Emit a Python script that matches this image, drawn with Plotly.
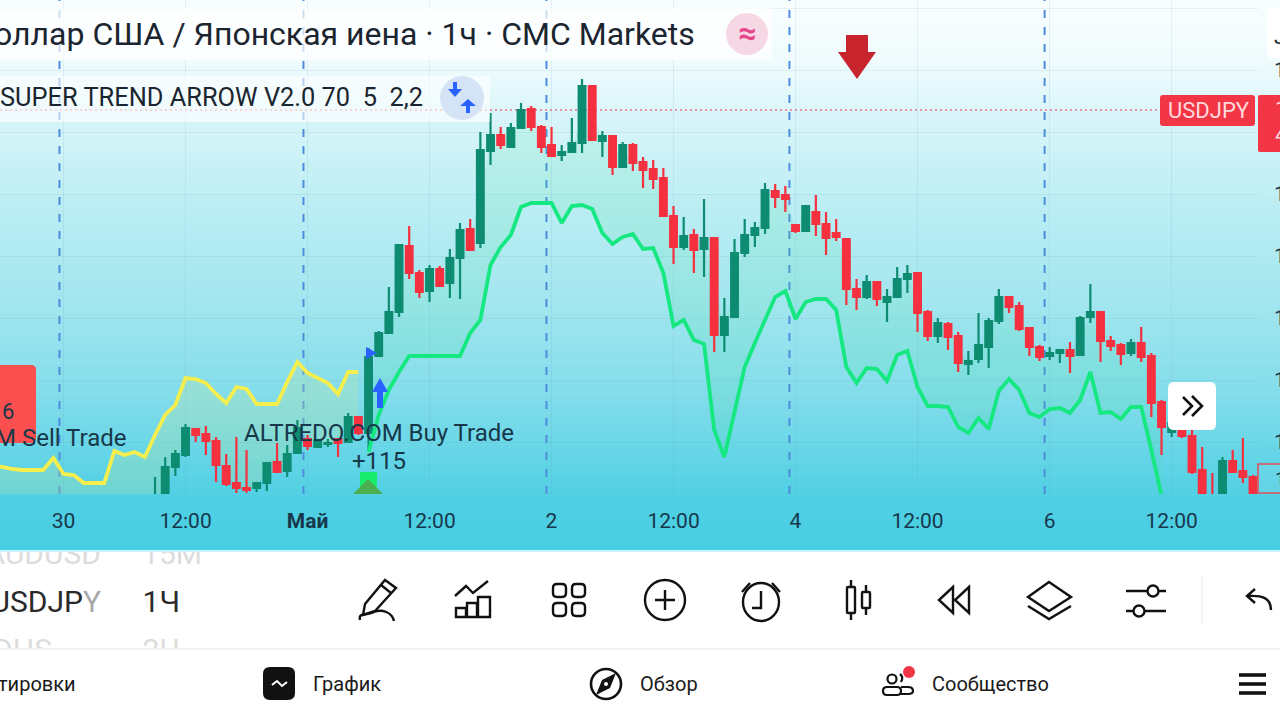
import plotly.graph_objects as go

# All price values are heights above the bottom of the chart pane: the price scale is cropped in the picture.
first_bar = 0
high = [17,37,44,70,65,68,57,40,57,44,12,32,51,49,74,59,54,55,56,81,78,146,163,207,249,268,224,229,228,245,271,275,362,381,367,371,391,388,369,367,349,376,415,408,363,358,352,351,337,334,326,288,277,265,295,256,196,255,275,272,311,310,308,269,288,299,282,275,255,215,219,212,205,227,229,221,184,176,172,162,143,181,176,205,197,192,166,149,147,144,152,178,210,182,158,151,155,167,141,94,74,66,64,47,21,37,44,56,19]
body_top = [-6,27,40,66,65,60,53,28,11,6,11,31,32,40,66,55,54,51,55,77,77,137,161,182,249,248,221,225,225,236,264,265,344,359,359,366,384,385,367,349,342,351,408,408,358,358,349,349,332,325,316,278,258,259,256,256,177,241,259,266,304,303,299,269,288,282,270,261,255,205,212,212,197,215,220,221,182,171,170,158,133,149,173,197,197,188,166,147,141,144,144,176,182,182,153,149,151,151,138,92,71,64,58,24,-6,33,33,23,17]
body_bot = [-11,-16,27,39,59,53,29,10,6,4,6,11,22,23,41,48,47,50,51,52,61,61,138,161,182,221,202,203,208,211,236,244,251,343,349,347,366,367,347,338,339,342,351,354,353,327,327,331,324,315,278,247,247,244,245,159,159,177,241,259,266,297,295,263,263,270,256,257,205,197,197,195,192,197,215,181,158,158,157,131,130,135,147,173,187,165,147,137,138,141,138,139,177,153,148,140,141,137,91,67,62,58,22,-16,-16,-16,22,17,-6]
low = [-16,-21,18,37,52,39,12,8,1,1,2,3,22,17,40,44,47,47,37,52,59,44,138,161,177,215,196,192,207,196,195,243,246,329,345,346,365,363,341,338,333,342,341,354,337,319,327,323,306,305,278,230,244,221,217,142,142,177,237,247,260,286,282,261,263,258,239,253,189,184,195,188,172,197,201,162,153,151,144,122,119,131,126,170,181,163,138,133,134,131,121,139,171,132,143,129,138,132,77,39,57,56,20,-21,-21,-21,21,11,-11]
is_up = [1,1,1,1,0,0,0,0,0,0,1,1,0,1,1,0,1,1,0,1,0,1,1,1,1,0,0,1,0,1,1,0,1,1,0,1,1,0,0,0,1,1,1,0,1,0,1,0,0,0,0,0,1,0,1,0,1,1,1,1,1,0,0,0,1,0,0,0,0,0,1,0,1,1,1,0,0,1,0,0,1,1,1,1,0,0,0,0,1,1,0,1,1,0,0,0,1,0,0,0,1,0,0,0,0,1,0,0,0]
sell_trend = [28,27,25,24,24,24,36,20,19,11,11,11,43,39,42,37,59,79,89,116,115,111,100,91,107,105,90,90,90,112,132,121,116,111,100,122,122]
sell_start = -16
buy_trend = [42,79,104,122,138,138,138,138,138,138,161,174,229,247,259,287,291,291,291,271,288,289,285,261,250,257,260,245,246,221,168,174,154,150,64,37,81,127,151,174,197,203,175,192,195,195,184,127,111,126,125,113,139,143,107,88,88,87,67,61,76,65,103,115,104,81,77,85,86,81,94,122,81,82,75,87,87,44,-2]
buy_start = 21
tick_bars = [-9,3,15,27,39,51,63,75,88,100]
tick_labels = ["30","12:00","<b>Май</b>","12:00","2","12:00","4","12:00","6","12:00"]
session_breaks = [-9.4,14.6,38.5,62.4,87.5]
price_ticks = [486,424,362,300,238,176,114,52]
last_price = 384

n = len(high)
bars = list(range(first_bar, first_bar + n))
opens = [b if u else t for t, b, u in zip(body_top, body_bot, is_up)]
closes = [t if u else b for t, b, u in zip(body_top, body_bot, is_up)]
mid = [(t + b) / 2 for t, b in zip(body_top, body_bot)]

W, H = 1280, 720
PANE_B = 494
TXT = "#17384a"
FONT = "Roboto"

X_RANGE = [-15.25, 108.49]
Y_RANGE = [0, PANE_B]
DOM_X = [0, 1258 / W]
DOM_Y = [1 - PANE_B / H, 1]

fig = go.Figure()

# trend fills (lowest, below the candles)
sx = list(range(sell_start, sell_start + len(sell_trend)))
sbase = [mid[i] if i >= 0 else 0 for i in sx]
fig.add_trace(go.Scatter(x=sx, y=sbase, mode="lines", line=dict(width=0), hoverinfo="skip", showlegend=False))
fig.add_trace(go.Scatter(x=sx, y=sell_trend, mode="lines", line=dict(width=0), fill="tonexty",
                         fillcolor="rgba(205,230,150,0.24)", hoverinfo="skip", showlegend=False))
bx = list(range(buy_start, buy_start + len(buy_trend)))
bbase = [mid[i] for i in bx]
fig.add_trace(go.Scatter(x=bx, y=bbase, mode="lines", line=dict(width=0), hoverinfo="skip", showlegend=False))
fig.add_trace(go.Scatter(x=bx, y=buy_trend, mode="lines", line=dict(width=0), fill="tonexty",
                         fillcolor="rgba(60,225,150,0.13)", hoverinfo="skip", showlegend=False))

# candles and lines on an identical pair of axes above the fills
fig.add_trace(go.Candlestick(x=bars, open=opens, high=high, low=low, close=closes, xaxis="x2", yaxis="y2",
                             whiskerwidth=0, showlegend=False, hoverinfo="skip",
                             increasing=dict(line=dict(color="#0e8c72", width=2.2), fillcolor="#0e8c72"),
                             decreasing=dict(line=dict(color="#f5303f", width=2.2), fillcolor="#f5303f")))
fig.add_trace(go.Scatter(x=sx, y=sell_trend, mode="lines", xaxis="x2", yaxis="y2",
                         line=dict(color="#f6ee4c", width=3.8), hoverinfo="skip", showlegend=False))
fig.add_trace(go.Scatter(x=bx, y=buy_trend, mode="lines", xaxis="x2", yaxis="y2",
                         line=dict(color="#16e881", width=3.8), hoverinfo="skip", showlegend=False))

# helper trace so the page-pixel overlay axes exist
fig.add_trace(go.Scatter(x=[0], y=[0], mode="none", xaxis="x3", yaxis="y3", hoverinfo="skip", showlegend=False))

# symbol picker strip, clipped by its own axes
picker_x = [101, 202, 101, 180, 52, 180]
picker_y = [556, 556, 604, 604, 652, 652]
picker_t = ["AUDUSD", "15М", "USDJP<span style='color:#a9a9a9'>Y</span>", "1Ч", "DHS", "2Ч"]
picker_c = ["#dcdcdc", "#dcdcdc", "#2a2a2a", "#2a2a2a", "#dcdcdc", "#dcdcdc"]
fig.add_trace(go.Scatter(x=picker_x, y=picker_y, text=picker_t, mode="text", textposition="middle left",
                         textfont=dict(family=FONT, size=30, color=picker_c), xaxis="x4", yaxis="y4",
                         cliponaxis=True, hoverinfo="skip", showlegend=False))

# ---- shapes ----
shapes = []
stops = [(0, (249, 254, 255)), (60, (240, 251, 253)), (120, (216, 245, 249)), (200, (189, 238, 244)),
         (300, (163, 230, 239)), (400, (128, 220, 234)), (494, (82, 208, 228)), (550, (70, 205, 226))]


def grad(y):
    for (a, ca), (b, cb) in zip(stops, stops[1:]):
        if a <= y <= b:
            t = (y - a) / (b - a)
            return "rgb(%d,%d,%d)" % tuple(round(p + (q - p) * t) for p, q in zip(ca, cb))
    return "rgb(70,205,226)"


for y in range(0, 550, 5):
    shapes.append(dict(type="rect", xref="paper", yref="paper", layer="below", x0=0, x1=1,
                       y0=1 - min(y + 5.6, 550) / H, y1=1 - y / H, fillcolor=grad(y + 2.5), line=dict(width=0)))

for b in session_breaks:
    shapes.append(dict(type="line", xref="x", yref="paper", layer="below", x0=b, x1=b, y0=DOM_Y[0], y1=1,
                       line=dict(color="#4d8ddc", width=2, dash="8px,9px")))
shapes.append(dict(type="line", xref="paper", yref="y", layer="below", x0=0, x1=1160 / W, y0=last_price, y1=last_price,
                   line=dict(color="rgba(232,70,90,0.75)", width=1.5, dash="2px,3px")))


def s(**k):
    k.setdefault("xref", "x3")
    k.setdefault("yref", "y3")
    k.setdefault("layer", "above")
    shapes.append(k)


def rect(x0, y0, x1, y1, fill, line=None, lw=0):
    s(type="rect", x0=x0, y0=y0, x1=x1, y1=y1, fillcolor=fill, line=dict(width=lw, color=line or fill))


def rrect_path(x0, y0, x1, y1, r):
    return (f"M {x0+r} {y0} H {x1-r} Q {x1} {y0} {x1} {y0+r} V {y1-r} Q {x1} {y1} {x1-r} {y1} "
            f"H {x0+r} Q {x0} {y1} {x0} {y1-r} V {y0+r} Q {x0} {y0} {x0+r} {y0} Z")


def stroke(path, w=2.4, c="#111111"):
    s(type="path", path=path, line=dict(color=c, width=w))


def solid(path, c):
    s(type="path", path=path, fillcolor=c, line=dict(width=0))


def ring(cx, cy, rx, ry=None, w=2.4, c="#111111", fill="rgba(0,0,0,0)"):
    ry = ry or rx
    s(type="circle", x0=cx - rx, x1=cx + rx, y0=cy - ry, y1=cy + ry, fillcolor=fill, line=dict(color=c, width=w))


# header bands
rect(0, 8, 772, 60, "rgba(255,255,255,0.72)")
rect(0, 76, 490, 122, "rgba(255,255,255,0.60)")
ring(747, 34, 21, fill="#f6d8e4", w=0, c="#f6d8e4")
ring(462, 98, 22, fill="#d5e3f7", w=0, c="#d5e3f7")
solid("M 453 82 H 457 V 89 H 462 L 455 97 L 448 89 H 453 Z", "#2962ff")
solid("M 466 113 H 470 V 106 H 476 L 468 99 L 460 106 H 466 Z", "#2962ff")
# red signal arrow
solid("M 846 35 H 868 V 52 H 876 L 857 79 L 838 52 H 846 Z", "#c8242e")
# left sell box
solid(rrect_path(-8, 365, 36, 443, 5), "#fb4f4f")
# buy markers
solid("M 366 347 L 377 353 L 366 359 Z", "#2962ff")
solid("M 377 408 V 392 H 372 L 380 378 L 388 392 H 383 V 408 Z", "#2962ff")
rect(360, 472, 377, 487, "#18ec6c")
solid("M 353 494 L 368 479 L 383 494 Z", "#4caf50")
# right price scale boxes
solid(rrect_path(1160, 95, 1255, 126, 3), "#f23645")
solid(rrect_path(1258, 95, 1290, 152, 2), "#f23645")
solid(rrect_path(1267, 8, 1295, 58, 6), "#ffffff")
rect(1258, 464, 1290, 493, "rgba(255,255,255,0.08)", "#e0505a", 1.5)
# scroll button
solid(rrect_path(1168, 382, 1216, 430, 6), "#ffffff")
stroke("M 1183 397 L 1192 406 L 1183 415 M 1192 396 L 1202 406 L 1192 416", 2.6)

# panel separators
rect(0, 550, W, 552, "#c8f6fb")
rect(0, 648, W, 650, "#f1f1f1")
rect(1201, 577, 1203, 623, "#f4f4f4")
# pencil
stroke("M 385 580 L 396 588 L 375 611 L 363 615 L 365 604 Z M 381 585 L 391 593")
stroke("M 360 620 C 358 612 366 616 374 612 C 382 609 392 612 394 621")
# indicators
stroke("M 455 596 L 466 586 L 473 593 L 488 581")
stroke("M 456 617 V 608 H 466 V 617 Z M 467 617 V 603 H 477 V 617 Z M 478 617 V 597 H 490 V 617 Z")
# templates
for xa, xb in ((553, 566), (572, 585)):
    for ya, yb in ((584, 597), (603, 616)):
        stroke(rrect_path(xa, ya, xb, yb, 4))
# add
ring(665, 600, 20)
stroke("M 655 600 H 675 M 665 590 V 610")
# alarm
ring(761, 602, 18, 19)
stroke("M 761 591 V 608 H 752 M 742 592 L 750 583 M 780 592 L 772 583")
# candle type
stroke("M 851 580 V 587 M 851 613 V 620 M 866 585 V 592 M 866 608 V 615")
stroke(rrect_path(847, 587, 855, 613, 1))
stroke(rrect_path(862, 592, 870, 608, 1))
# replay
stroke("M 953 587 L 939 600 L 953 613 Z M 969 587 L 955 600 L 969 613 Z")
# layers
stroke("M 1049 582 L 1071 597 L 1049 611 L 1028 597 Z M 1028 606 L 1049 619 L 1071 606")
# sliders
stroke("M 1126 591 H 1148 M 1158 591 H 1166 M 1126 611 H 1133 M 1145 611 H 1166")
ring(1153, 591, 5.5)
ring(1139, 611, 5.5)
# undo
stroke("M 1271 610 C 1271 598 1262 595 1248 596 M 1255 589 L 1247 596 L 1255 603")
# nav icons
solid(rrect_path(263, 667, 295, 700, 7), "#111111")
stroke("M 272 685 L 277 681 L 282 686 L 287 682", 2, "#ffffff")
ring(606, 684, 15, w=2.6)
solid("M 616 673 L 602 680 L 596 695 L 610 688 Z", "#111111")
ring(606, 684, 2, w=0, c="#ffffff", fill="#ffffff")
ring(892, 679, 4.5, w=2.2)
stroke(rrect_path(883, 687, 901, 695, 4), 2.2)
stroke("M 901 687 H 908 Q 913 687 913 691 Q 913 694 908 694 H 901", 2.2)
stroke("M 900 674 Q 904 677 901 682", 2.2)
ring(909, 672, 6, w=0, c="#f23645", fill="#f23645")
for yy in (675, 684, 693):
    rect(1239, yy - 1.8, 1266, yy + 1.8, "#111111")

# ---- annotations ----
ann = []


def t(x, y, text, size, anchor="left", color=TXT, family=FONT, xshift=0):
    ann.append(dict(xref="x3", yref="y3", x=x, y=y, text=text, showarrow=False, xanchor=anchor, yanchor="middle",
                    font=dict(family=family, size=size, color=color), align=anchor, xshift=xshift))


t(697, 34, "Доллар США / Японская иена · 1ч · CMC Markets", 32, "right", "#1b2530")
t(747, 33, "<b>≈</b>", 32, "center", "#e8468a")
t(0, 97, "SUPER TREND ARROW V2.0 70\u00a0\u00a05\u00a0\u00a02,2", 25.4, "left", "#1b2530", xshift=-2)
t(1209, 110, "USDJPY", 22, "center", "#ffd9dd")
t(1273, 109, "1", 21, "left", "#ffd9dd")
t(1273, 135, "4", 21, "left", "#ffd9dd")
t(1272, 37, "J", 21, "left", "#1b2530")
t(1273, 478, "1", 19, "left", "#17384a")
t(128, 438, "M Sell Trade", 24, "right")
t(16, 411, "6", 22, "right")
t(379, 433, "ALTREDO.COM Buy Trade", 24, "center")
t(379, 461, "+115", 24, "center")
t(78, 684, "тировки", 20, "right", "#1a1a1a")
t(311, 684, "График", 20, "left", "#1a1a1a")
t(638, 684, "Обзор", 20, "left", "#1a1a1a")
t(930, 684, "Сообщество", 20, "left", "#1a1a1a")

hidden = dict(visible=False, showgrid=False, zeroline=False, fixedrange=True, automargin=False)
GRID = "rgba(90,150,175,0.12)"

fig.update_layout(
    width=W, height=H, autosize=False, margin=dict(l=0, r=0, t=0, b=0),
    paper_bgcolor="#ffffff", plot_bgcolor="rgba(0,0,0,0)", showlegend=False, boxgap=0.34, boxgroupgap=0,
    font=dict(family=FONT, color=TXT),
    shapes=shapes, annotations=ann,
    xaxis=dict(domain=DOM_X, range=X_RANGE, anchor="y", tickmode="array", tickvals=tick_bars, ticktext=tick_labels,
               showgrid=True, gridcolor=GRID, gridwidth=1, zeroline=False, ticks="", ticklen=0, showline=False,
               tickfont=dict(family=FONT, size=21, color=TXT), ticklabelstandoff=12, fixedrange=True,
               automargin=False, rangeslider=dict(visible=False)),
    yaxis=dict(domain=DOM_Y, range=Y_RANGE, anchor="x", side="right", tickmode="array", tickvals=price_ticks,
               ticktext=["1"] * len(price_ticks), showgrid=True, gridcolor=GRID, gridwidth=1, zeroline=False,
               ticks="", showline=False, tickfont=dict(family=FONT, size=21, color=TXT), ticklabelstandoff=15,
               fixedrange=True, automargin=False),
    xaxis2=dict(hidden, domain=DOM_X, range=X_RANGE, anchor="y2", rangeslider=dict(visible=False)),
    yaxis2=dict(hidden, domain=DOM_Y, range=Y_RANGE, anchor="x2"),
    xaxis3=dict(hidden, domain=[0, 1], range=[0, W], anchor="y3"),
    yaxis3=dict(hidden, domain=[0, 1], range=[H, 0], anchor="x3"),
    xaxis4=dict(hidden, domain=[0, 1], range=[0, W], anchor="y4"),
    yaxis4=dict(hidden, domain=[(H - 648) / H, (H - 552) / H], range=[648, 552], anchor="x4"),
)

fig.write_html("out.html", config=dict(displayModeBar=False),
               post_script="document.body.style.margin='0';document.documentElement.style.overflow='hidden';")
